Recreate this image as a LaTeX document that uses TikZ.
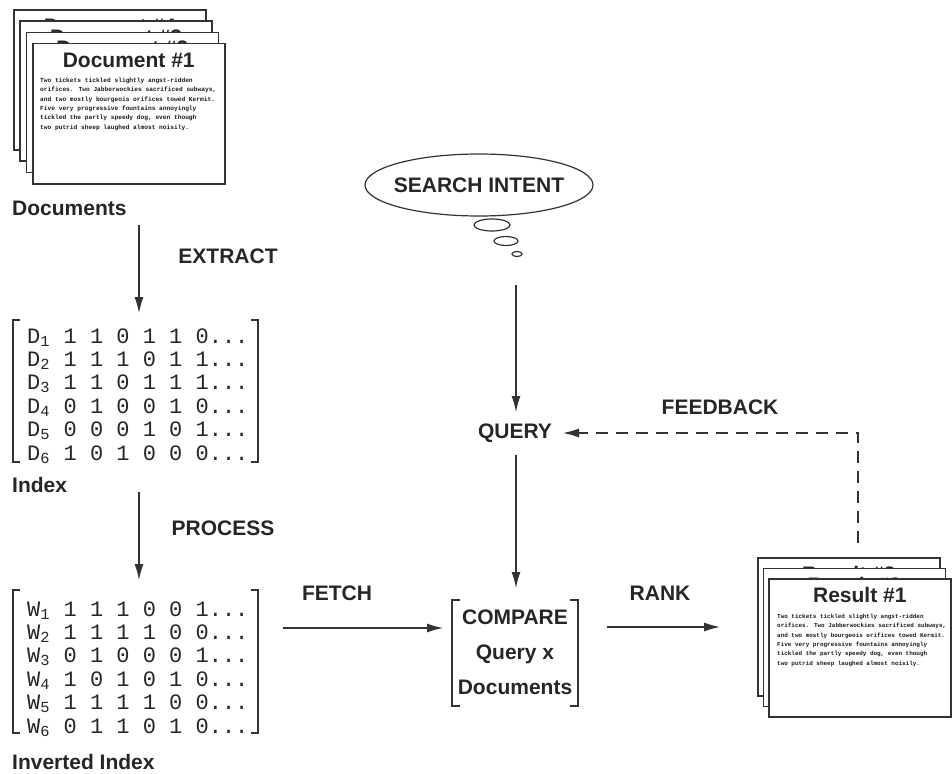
\documentclass[tikz,border=0pt]{standalone}
\usepackage{fontspec}
\setmainfont{Liberation Sans}
\newfontfamily\matfont{Liberation Mono}
\usepackage{tikz}
\usetikzlibrary{calc}
\usetikzlibrary{shapes.geometric,arrows.meta}

\begin{document}
\begin{tikzpicture}[x=1pt,y=-1pt,
    lbl/.style={font=\fontsize{21}{25}\selectfont\bfseries, text=black!85, inner sep=0pt},
    sheet/.style={draw=black!80, line width=1.6pt, fill=white, anchor=north west, inner sep=0pt},
    blurb/.style={font=\matfont\bfseries\fontsize{6.2}{9.3}\selectfont, align=left, anchor=north west, inner sep=0pt, text=black!90},
    matrow/.style={font=\matfont\fontsize{22}{24}\selectfont, anchor=base west, inner sep=0pt, text=black!85},
    brk/.style={draw=black!80, line width=1.4pt},
    flow/.style={draw=black!80, line width=1.2pt, -{Latex[length=16pt,width=9pt]}},
    fb/.style={flow, dash pattern=on 12pt off 8pt},
    bubble/.style={draw=black!80, line width=1.2pt, ellipse, inner sep=0pt}]

    \useasboundingbox (0,0) rectangle (952,773);

    \foreach \n/\k in {4/0,3/1,2/2,1/3} {
        \node [sheet, minimum width=192pt, minimum height=140pt] (doc\n) at ({13+6.3*\k},{9+11.3*\k}) {};
        \node [lbl] (doctitle\n) at ($(doc\n.north)+(0,17)$) {Document \#\n};
    }
    \node [blurb] (doctext) at (40,78) {Two tickets tickled slightly angst-ridden\\orifices. Two Jabberwockies sacrificed subways,\\and two mostly bourgeois orifices towed Kermit.\\Five very progressive fountains annoyingly\\tickled the partly speedy dog, even though\\two putrid sheep laughed almost noisily.};
    \node [lbl, anchor=west] (docs) at (12,208) {Documents};

    \coordinate (E0) at (139,225);
    \coordinate (E1) at (139,313);
    \coordinate (P0) at (139,492);
    \coordinate (P1) at (139,580);
    \coordinate (F0) at (283,628);
    \coordinate (F1) at (443,628);
    \coordinate (R0) at (607,627);
    \coordinate (R1) at (720,627);
    \coordinate (Q0) at (516,285);
    \coordinate (Q1) at (516,412);
    \coordinate (C0) at (516,455);
    \coordinate (C1) at (516,588);
    \coordinate (B0) at (858,543);
    \coordinate (B1) at (858,433);
    \coordinate (B2) at (563,433);

    \coordinate (I0) at (20,320);
    \coordinate (I1) at (13,320);
    \coordinate (I2) at (13,462);
    \coordinate (I3) at (20,462);
    \coordinate (I4) at (251,320);
    \coordinate (I5) at (258,320);
    \coordinate (I6) at (258,462);
    \coordinate (I7) at (251,462);

    \coordinate (V0) at (20,590);
    \coordinate (V1) at (13,590);
    \coordinate (V2) at (13,733);
    \coordinate (V3) at (20,733);
    \coordinate (V4) at (251,590);
    \coordinate (V5) at (258,590);
    \coordinate (V6) at (258,733);
    \coordinate (V7) at (251,733);

    \coordinate (K0) at (460,600);
    \coordinate (K1) at (452,600);
    \coordinate (K2) at (452,706);
    \coordinate (K3) at (460,706);
    \coordinate (K4) at (570,600);
    \coordinate (K5) at (578,600);
    \coordinate (K6) at (578,706);
    \coordinate (K7) at (570,706);

    \draw [flow] (E0) -- (E1);
    \node [lbl] (extract) at (228,256) {EXTRACT};

    \foreach \i/\row in {1/1 1 0 1 1 0,2/1 1 1 0 1 1,3/1 1 0 1 1 1,4/0 1 0 0 1 0,5/0 0 0 1 0 1,6/1 0 1 0 0 0}
        \node [matrow] (d\i) at (27,{343+23.4*(\i-1)}) {D\makebox[10pt][l]{\textsubscript{\i}} \row...};
    \draw [brk] (I0) -- (I1) -- (I2) -- (I3);
    \draw [brk] (I4) -- (I5) -- (I6) -- (I7);
    \node [lbl, anchor=west] (index) at (12,485) {Index};

    \draw [flow] (P0) -- (P1);
    \node [lbl] (process) at (223,528) {PROCESS};

    \foreach \i/\row in {1/1 1 1 0 0 1,2/1 1 1 1 0 0,3/0 1 0 0 0 1,4/1 0 1 0 1 0,5/1 1 1 1 0 0,6/0 1 1 0 1 0}
        \node [matrow] (w\i) at (27,{616+23.4*(\i-1)}) {W\makebox[10pt][l]{\textsubscript{\i}} \row...};
    \draw [brk] (V0) -- (V1) -- (V2) -- (V3);
    \draw [brk] (V4) -- (V5) -- (V6) -- (V7);
    \node [lbl, anchor=west] (invindex) at (12,762) {Inverted Index};

    \draw [flow] (F0) -- (F1);
    \node [lbl] (fetch) at (337,593) {FETCH};

    \node [lbl] (intent) at (479,185) {SEARCH INTENT};
    \draw [draw=black!80, line width=1.2pt] (intent.center) ellipse [x radius=114pt, y radius=31pt];
    \node [bubble, minimum width=36pt, minimum height=12pt] (b1) at (492,225) {};
    \node [bubble, minimum width=24pt, minimum height=9pt] (b2) at (506,241) {};
    \node [bubble, minimum width=10pt, minimum height=5pt] (b3) at (517,254) {};

    \draw [flow] (Q0) -- (Q1);
    \node [lbl] (query) at (515,433) {QUERY};
    \draw [flow] (C0) -- (C1);

    \node [lbl, align=center, font=\fontsize{21}{35}\selectfont\bfseries] (compare) at (515,652) {COMPARE\\Query x\\Documents};
    \draw [brk] (K0) -- (K1) -- (K2) -- (K3);
    \draw [brk] (K4) -- (K5) -- (K6) -- (K7);

    \draw [flow] (R0) -- (R1);
    \node [lbl] (rank) at (660,593) {RANK};

    \foreach \n/\k in {3/0,2/1,1/2} {
        \node [sheet, minimum width=182pt, minimum height=138pt] (res\n) at ({757+5.5*\k},{557+10.5*\k}) {};
        \node [lbl] (restitle\n) at ($(res\n.north)+(0,17)$) {Result \#\n};
    }
    \node [blurb, font=\matfont\bfseries\fontsize{5.95}{9.3}\selectfont] (restext) at (777,614) {Two tickets tickled slightly angst-ridden\\orifices. Two Jabberwockies sacrificed subways,\\and two mostly bourgeois orifices towed Kermit.\\Five very progressive fountains annoyingly\\tickled the partly speedy dog, even though\\two putrid sheep laughed almost noisily.};

    \draw [fb] (B0) -- (B1) -- (B2);
    \node [lbl] (feedback) at (720,407) {FEEDBACK};
\end{tikzpicture}
\end{document}
